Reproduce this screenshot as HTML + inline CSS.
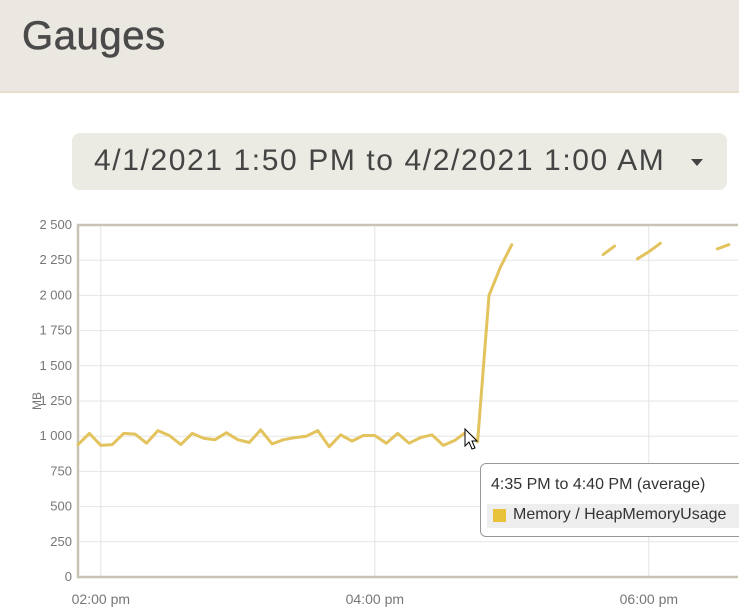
<!DOCTYPE html>
<html><head><meta charset="utf-8"><style>
body{margin:0;width:739px;height:615px;overflow:hidden;background:#fff;font-family:"Liberation Sans",sans-serif;position:relative}
#hdr{position:absolute;left:0;top:0;width:739px;height:91px;background:#eae8e0;border-bottom:2px solid #e6dfcc}
#hdr h1{position:absolute;left:22px;top:14px;margin:0;font-size:40px;font-weight:normal;color:#4a4a4a;letter-spacing:0.6px;-webkit-text-stroke:0.6px #4a4a4a}
#range{position:absolute;left:72px;top:133px;width:655px;height:57px;background:#ebeae3;border-radius:8px}
#range span{position:absolute;left:22px;top:11px;font-size:30px;color:#444;white-space:nowrap;letter-spacing:1.6px}
#range i{position:absolute;left:619px;top:26px;width:0;height:0;border-left:6px solid transparent;border-right:6px solid transparent;border-top:7px solid #444}
svg{position:absolute;left:0;top:0}
#tip{position:absolute;left:480px;top:463px;width:270px;height:72px;background:#fff;border:1px solid #999;border-radius:6px;font-size:16px;color:#333}
</style></head><body>
<div id="hdr"><h1>Gauges</h1></div>
<div id="range"><span>4/1/2021 1:50 PM to 4/2/2021 1:00 AM</span><i></i></div>
<svg id="chart" width="739" height="615"></svg>
<div id="tip">
<div style="position:absolute;left:10px;top:12px;white-space:nowrap">4:35 PM to 4:40 PM (average)</div>
<div style="position:absolute;left:6px;top:40px;width:260px;height:24px;background:#eee"></div>
<div style="position:absolute;left:12px;top:45px;width:13px;height:13px;background:#e8c23a"></div>
<div style="position:absolute;left:32px;top:42px;white-space:nowrap">Memory / HeapMemoryUsage</div>
</div>
<script>
const yTicks=[0,250,500,750,1000,1250,1500,1750,2000,2250,2500];
const xTickLabels=["02:00 pm","04:00 pm","06:00 pm"];
const xTickMinutes=[125,245,365];
const values=[940,1020,935,940,1020,1015,950,1040,1005,940,1020,985,975,1025,975,955,1045,945,975,990,1000,1040,925,1010,965,1005,1005,950,1020,950,990,1010,935,970,1030,960,2000,2200,2360,null,null,null,null,null,null,null,2290,2350,null,2260,2310,2370,null,null,null,null,2330,2360,null];
const startMinute=115, stepMinutes=5;
const NS="http://www.w3.org/2000/svg";
const svg=document.getElementById('chart');
const L=78,T=225,B=577,R=738;
const pxPerMin=274/120;
const xs=m=>L+(m-startMinute)*pxPerMin;
const ys=v=>B-v/2500*(B-T);
function mk(t,a){const e=document.createElementNS(NS,t);for(const k in a)e.setAttribute(k,a[k]);svg.appendChild(e);return e;}
yTicks.forEach(v=>{
 if(v>0&&v<2500){const g=mk('line',{x1:L,x2:R,y1:ys(v),y2:ys(v),stroke:'#e6e6e6','stroke-width':1});
 
 }
 const t=mk('text',{x:L-6,y:ys(v)+4,'text-anchor':'end','font-size':13,fill:'#777','font-family':'Liberation Sans'});
 t.textContent=v>=1000?String(v).replace(/(\d)(\d{3})$/,'$1 $2'):String(v);
 
 
});
xTickMinutes.forEach((m,i)=>{
 const g=mk('line',{x1:xs(m),x2:xs(m),y1:T,y2:B,stroke:'#e2e2e2','stroke-width':1});
 
 
 const t=mk('text',{x:xs(m),y:B+27,'text-anchor':'middle','font-size':14,fill:'#777','font-family':'Liberation Sans'});
 t.textContent=xTickLabels[i];
 
 
});
const fr=mk('path',{d:`M${R},${T}H${L}V${B}H${R}`,fill:'none',stroke:'#c8c3b3','stroke-width':2.5});


const yl=mk('text',{x:0,y:0,'font-size':12,fill:'#777',transform:`translate(41,401) rotate(-90)`,'text-anchor':'middle','font-family':'Liberation Sans'});
yl.textContent='MB';


let d='',pen=false;
values.forEach((v,i)=>{
 if(v==null){pen=false;return;}
 const x=xs(startMinute+i*stepMinutes),y=ys(v);
 d+=(pen?'L':'M')+x.toFixed(1)+','+y.toFixed(1);pen=true;
});
const ln=mk('path',{d:d,fill:'none',stroke:'#e3c35e','stroke-width':3,'stroke-linejoin':'round','stroke-linecap':'round'});


const cur=mk('path',{d:'M465,429 l0,17 l4,-4 l3,7 l3,-1 l-3,-7 l5,0 z',fill:'#fff',stroke:'#000','stroke-width':1});


</script>
</body></html>
